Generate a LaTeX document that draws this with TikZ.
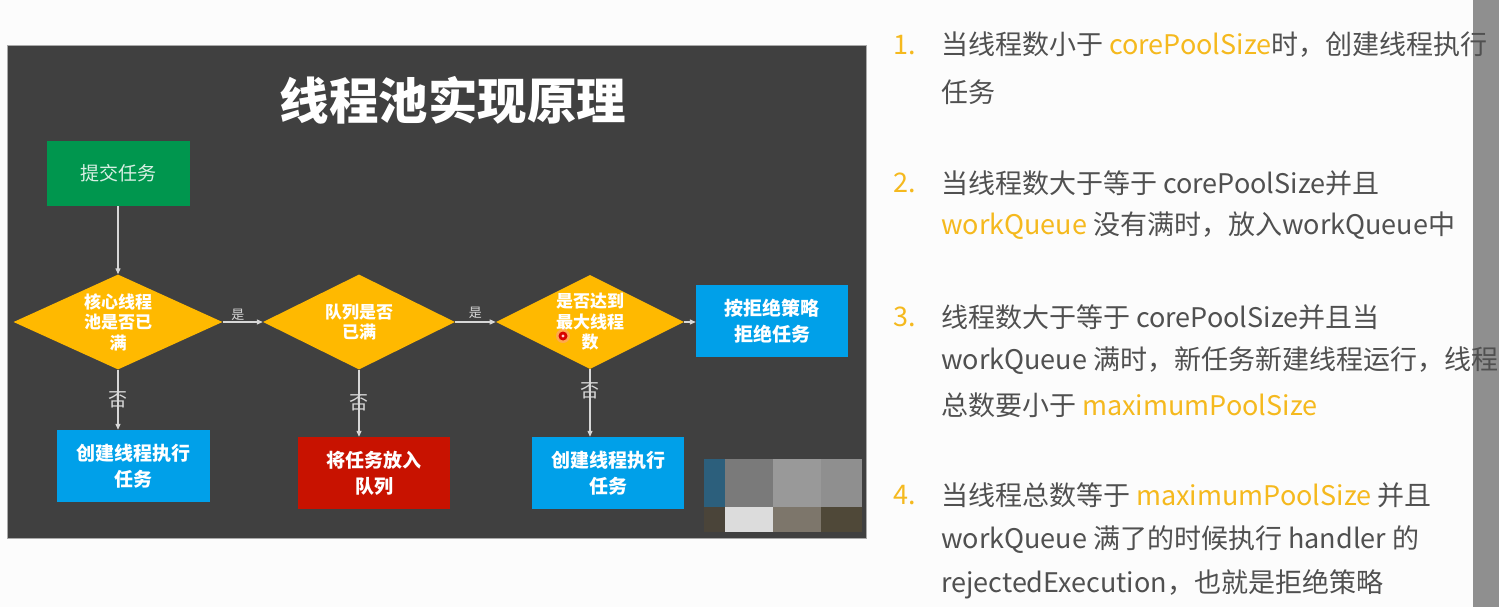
\documentclass[tikz,border=0pt]{standalone}
\usepackage{fontspec}
\setmainfont{Noto Sans CJK SC}
\usetikzlibrary{shapes.geometric,arrows.meta}
\definecolor{bgc}{RGB}{252,252,252}
\definecolor{panelc}{RGB}{64,64,64}
\definecolor{panelborder}{RGB}{170,170,170}
\definecolor{greenc}{RGB}{0,150,78}
\definecolor{yellowc}{RGB}{255,185,0}
\definecolor{bluec}{RGB}{0,160,233}
\definecolor{redc}{RGB}{200,18,0}
\definecolor{connc}{RGB}{215,215,215}
\definecolor{txtgray}{RGB}{80,80,80}
\definecolor{orangec}{RGB}{245,185,30}
\definecolor{barc}{RGB}{143,143,143}
\definecolor{mza}{RGB}{44,95,124}
\definecolor{mzb}{RGB}{122,122,122}
\definecolor{mzc}{RGB}{153,153,153}
\definecolor{mzd}{RGB}{143,143,143}
\definecolor{mze}{RGB}{74,68,57}
\definecolor{mzf}{RGB}{220,220,220}
\definecolor{mzg}{RGB}{125,118,107}
\definecolor{mzh}{RGB}{79,72,56}
\newcommand\hlo[1]{\textcolor{orangec}{#1}}
\begin{document}
\begin{tikzpicture}[x=1pt,y=-1pt,
  boxbase/.style={rectangle, inner sep=0, align=center, text=white},
  greenbox/.style={boxbase, fill=greenc, text=white!85!greenc, font=\fontsize{19}{22}\selectfont},
  bluebox/.style={boxbase, fill=bluec, font=\bfseries\fontsize{19}{26}\selectfont},
  redbox/.style={boxbase, fill=redc, font=\bfseries\fontsize{19}{26}\selectfont},
  decision/.style={diamond, fill=yellowc, inner sep=0, aspect=2.1, align=center, text=white, font=\bfseries\fontsize{17}{20.5}\selectfont},
  conn/.style={draw=connc, line width=1.2pt, -{Triangle[length=6pt,width=5pt]}},
  yeslbl/.style={text=connc, font=\fontsize{13}{13}\selectfont, inner sep=1pt},
  nolbl/.style={text=connc, font=\fontsize{19}{19}\selectfont, inner sep=0},
  numlbl/.style={anchor=west, text=orangec, font=\fontsize{27}{27}\selectfont, inner sep=0},
  textline/.style={anchor=west, text=txtgray, font=\fontsize{27}{27}\selectfont, inner sep=0}
]
\useasboundingbox (0,0) rectangle (1499,607);
\fill[bgc] (0,0) rectangle (1499,607);
% right gray bar (text runs over it)
\fill[barc] (1473,0) rectangle (1499,607);
% panel
\draw[fill=panelc, draw=panelborder, line width=1pt] (7,46) rectangle (866,538);
\node[text=white, font=\bfseries\fontsize{49.5}{50}\selectfont, inner sep=0] (title) at (453,100) {线程池实现原理};
% nodes
\node[greenbox, minimum width=143, minimum height=65] (submit) at (118.5,173.5) {提交任务};
\node[decision, minimum width=209, minimum height=95] (d1) at (118,322) {核心线程\\池是否已\\满};
\node[decision, minimum width=192, minimum height=95] (d2) at (359,322) {队列是否\\已满};
\node[decision, minimum width=186, minimum height=94] (d3) at (590,322) {是否达到\\最大线程\\数};
\node[bluebox, minimum width=152, minimum height=72] (reject) at (772,321) {按拒绝策略\\拒绝任务};
\node[bluebox, minimum width=153, minimum height=72] (b1) at (133.5,466) {创建线程执行\\任务};
\node[redbox, minimum width=152, minimum height=72] (b2) at (374,473) {将任务放入\\队列};
\node[bluebox, minimum width=152, minimum height=72] (b3) at (608,473) {创建线程执行\\任务};
% connectors
\draw[conn] (submit.south -| d1.north) -- (d1.north);
\draw[conn] (d1.east) -- node[yeslbl, pos=0.38, above] {是} (d2.west);
\draw[conn] (d2.east) -- node[yeslbl, pos=0.5, above=2pt] {是} (d3.west);
\draw[conn] (d3.east) -- (d3.east -| reject.west);
\draw[conn] (d1.south) -- node[nolbl] {否} (d1.south |- b1.north);
\draw[conn] (d2.south) -- node[nolbl] {否} (d2.south |- b2.north);
\draw[conn] (d3.south) -- node[nolbl, pos=0.32] {否} (d3.south |- b3.north);
% red cursor dot
\fill[red!40, opacity=0.5] (563,336) circle (7);
\fill[red!85!black] (563,336) circle (4.5);
\fill[white!80!red] (563,336) circle (1.6);
% mosaic
\fill[mza] (704,459) rectangle (725,507);
\fill[mzb] (725,459) rectangle (773,507);
\fill[mzc] (773,459) rectangle (821,507);
\fill[mzd] (821,459) rectangle (862,507);
\fill[mze] (704,507) rectangle (725,532);
\fill[mzf] (725,507) rectangle (773,532);
\fill[mzg] (773,507) rectangle (821,532);
\fill[mzh] (821,507) rectangle (862,532);
% right text
\node[numlbl] (n1) at (893,45) {1.};
\node[textline] (t1a) at (941,45) {当线程数小于 \hlo{corePoolSize}时，创建线程执行};
\node[textline] (t1b) at (941,92) {任务};
\node[numlbl] (n2) at (893,183) {2.};
\node[textline] (t2a) at (941,183) {当线程数大于等于 corePoolSize并且};
\node[textline] (t2b) at (941,226) {\hlo{workQueue} 没有满时，放入workQueue中};
\node[numlbl] (n3) at (893,317) {3.};
\node[textline] (t3a) at (941,317) {线程数大于等于 corePoolSize并且当};
\node[textline] (t3b) at (941,361) {workQueue 满时，新任务新建线程运行，线程};
\node[textline] (t3c) at (941,405) {总数要小于 \hlo{maximumPoolSize}};
\node[numlbl] (n4) at (893,495) {4.};
\node[textline] (t4a) at (941,495) {当线程总数等于 \hlo{maximumPoolSize} 并且};
\node[textline] (t4b) at (941,540) {workQueue 满了的时候执行 handler 的};
\node[textline] (t4c) at (941,584) {rejectedExecution，也就是拒绝策略};
\end{tikzpicture}
\end{document}
